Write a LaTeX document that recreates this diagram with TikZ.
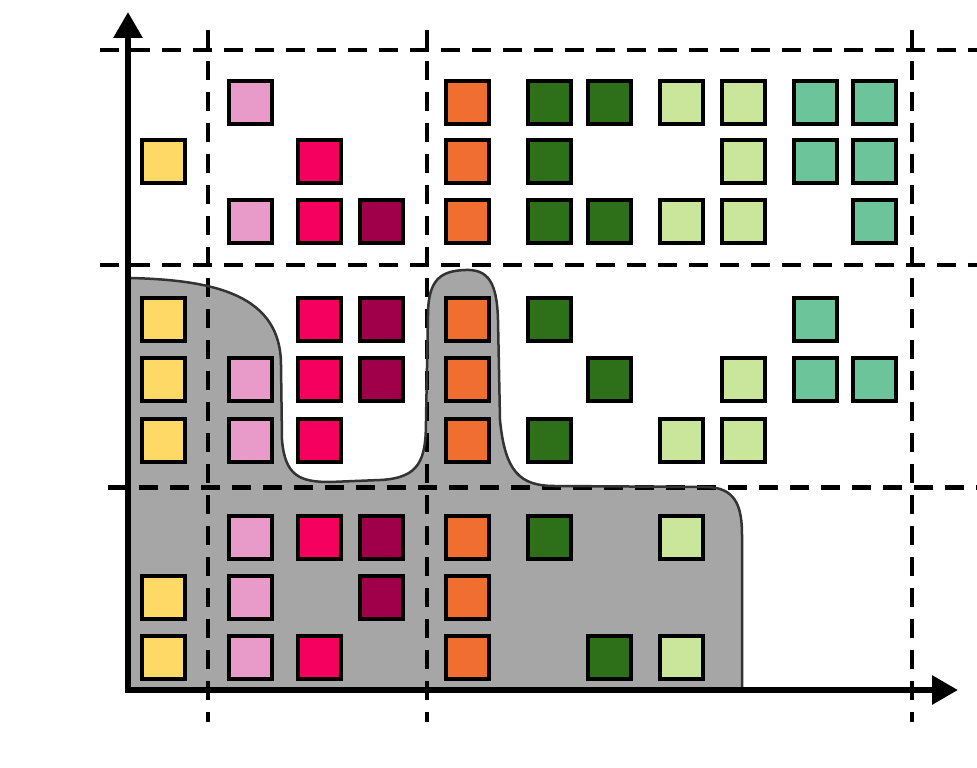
\documentclass[tikz,border=0pt]{standalone}
\usetikzlibrary{arrows.meta}
\definecolor{col0}{HTML}{FFD966}
\definecolor{col1}{HTML}{E89AC8}
\definecolor{col2}{HTML}{F5005E}
\definecolor{col3}{HTML}{A0004A}
\definecolor{col4}{HTML}{F06E30}
\definecolor{col5}{HTML}{2D7019}
\definecolor{col6}{HTML}{2D7019}
\definecolor{col7}{HTML}{C9E69A}
\definecolor{col8}{HTML}{C9E69A}
\definecolor{col9}{HTML}{6CC49B}
\definecolor{col10}{HTML}{6CC49B}
\definecolor{regiongray}{HTML}{A6A6A6}
\begin{document}
\begin{tikzpicture}[x=1pt,y=-1pt,
  sq/.style={draw=black,line width=4pt,minimum size=43pt,inner sep=0pt},
  grid/.style={dashed,line width=4pt,dash pattern=on 19pt off 12pt},
  axis/.style={line width=6pt,-{Triangle[length=26pt,width=28pt]}},
  outline/.style={draw=black!80,line width=2.5pt}]
\useasboundingbox (0,0) rectangle (977,768);
\fill[white] (0,0) rectangle (977,768);
\def\regionpath{(130,278) .. controls (215,280) and (281,295) .. (281,365)
  -- (282,440) .. controls (285,476) and (300,482) .. (330,482)
  -- (380,480) .. controls (420,478) and (426,460) .. (426,420)
  -- (428,315) .. controls (428,278) and (442,271) .. (465,270)
  .. controls (488,269) and (497,282) .. (498,320)
  -- (500,420) .. controls (505,472) and (520,486) .. (555,486)
  -- (705,487) .. controls (735,487) and (742,505) .. (742,535)
  -- (742,690)}
% grey region
\path[fill=regiongray] \regionpath -- (130,690) -- cycle;
% dashed grid
\coordinate (h1a) at (100,50);  \coordinate (h1b) at (977,50);
\coordinate (h2a) at (100,265); \coordinate (h2b) at (977,265);
\coordinate (h3a) at (108,487); \coordinate (h3b) at (977,487);
\coordinate (v1a) at (208,30);  \coordinate (v1b) at (208,722);
\coordinate (v2a) at (427,30);  \coordinate (v2b) at (427,722);
\coordinate (v3a) at (912,30);  \coordinate (v3b) at (912,722);
\draw[grid] (h1a) -- (h1b);
\draw[grid] (h2a) -- (h2b);
\draw[grid,line width=5pt] (h3a) -- (h3b);
\draw[grid] (v1a) -- (v1b);
\draw[grid] (v2a) -- (v2b);
\draw[grid] (v3a) -- (v3b);
% outline of region
\draw[outline] \regionpath;
% axes
\coordinate (O) at (128,690);
\coordinate (Y) at (128,12);
\coordinate (X) at (958,690);
\draw[axis] ([yshift=3pt]O) -- (Y);
\draw[axis] ([xshift=-3pt]O) -- (X);
% squares
\def\cx{{163.5,250,319,381,467.5,549.5,609.5,681.5,743.5,815.5,874.5}}
\def\ry{{102.5,161.5,221.5,319.5,379.5,440.5,537.5,597.5,657.5}}
\foreach \j/\cols in {0/{1,4,5,6,7,8,9,10},1/{0,2,4,5,8,9,10},2/{1,2,3,4,5,6,7,8,10},
  3/{0,2,3,4,5,9},4/{0,1,2,3,4,6,8,9,10},5/{0,1,2,4,5,7,8},6/{1,2,3,4,5,7},
  7/{0,1,3,4},8/{0,1,2,4,6,7}}{
  \foreach \i in \cols {
    \pgfmathsetmacro\X{\cx[\i]}
    \pgfmathsetmacro\Y{\ry[\j]}
    \node[sq,fill=col\i] (q\i-\j) at (\X,\Y) {};
  }
}
\end{tikzpicture}
\end{document}
